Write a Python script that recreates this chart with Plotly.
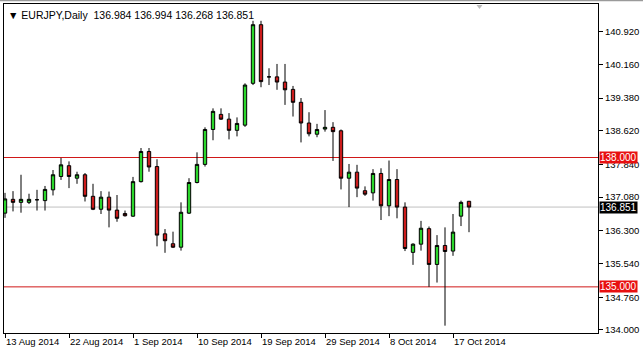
import plotly.graph_objects as go

dates = ["2014-08-13","2014-08-14","2014-08-15","2014-08-17","2014-08-18","2014-08-19","2014-08-20","2014-08-21","2014-08-22",
         "2014-08-24","2014-08-25","2014-08-26","2014-08-27","2014-08-28","2014-08-29","2014-08-31",
         "2014-09-01","2014-09-02","2014-09-03","2014-09-04","2014-09-05","2014-09-07","2014-09-08","2014-09-09","2014-09-10",
         "2014-09-11","2014-09-12","2014-09-14","2014-09-15","2014-09-16","2014-09-17","2014-09-18","2014-09-19",
         "2014-09-21","2014-09-22","2014-09-23","2014-09-24","2014-09-25","2014-09-26","2014-09-28","2014-09-29","2014-09-30",
         "2014-10-01","2014-10-02","2014-10-03","2014-10-05","2014-10-06","2014-10-07","2014-10-08","2014-10-09","2014-10-10",
         "2014-10-12","2014-10-13","2014-10-14","2014-10-15","2014-10-16","2014-10-17","2014-10-19","2014-10-20"]

opens = [136.71,137.03,136.96,136.96,137.02,137.00,137.25,137.56,137.81,
         137.52,137.60,137.10,136.80,137.08,136.78,136.70,
         136.64,137.44,138.14,137.79,136.23,136.00,135.92,136.71,137.42,
         137.84,138.65,139.00,138.89,138.63,138.75,139.72,141.08,
         139.87,139.87,139.75,139.58,139.28,138.80,138.54,138.66,138.70,
         138.62,137.52,137.66,137.23,137.18,137.63,136.88,137.49,136.85,
         135.80,135.99,136.35,135.52,135.96,135.83,136.64,136.984]
highs = [137.18,137.22,137.60,137.16,137.25,137.34,137.71,137.99,137.91,
         137.67,137.64,137.39,137.22,137.21,137.13,136.77,
         137.55,138.22,138.22,137.96,136.34,136.28,136.96,137.52,138.12,
         138.70,139.14,139.14,139.03,138.93,139.72,141.17,141.17,
         140.07,140.17,140.17,139.66,139.38,139.05,138.78,139.10,138.82,
         138.65,137.85,137.83,137.33,137.73,137.75,137.93,137.73,136.96,
         136.01,136.53,136.40,136.20,136.38,136.69,137.00,136.994]
lows = [136.60,136.75,136.72,136.92,136.77,136.77,137.12,137.48,137.29,
        137.39,136.98,136.78,136.69,136.38,136.51,136.63,
        136.62,137.42,137.67,135.94,135.79,135.90,135.84,136.69,137.40,
        137.79,138.40,138.87,138.42,138.49,138.71,139.68,139.63,
        139.68,139.57,139.22,138.95,138.35,138.49,138.47,138.60,137.92,
        137.26,136.85,137.08,137.11,137.00,136.55,136.64,136.59,135.83,
        135.51,135.84,135.00,135.10,134.10,135.72,136.41,136.268]
closes = [137.04,136.96,137.03,137.03,137.02,137.26,137.60,137.83,137.56,
          137.60,137.10,136.80,137.08,136.78,136.59,136.65,
          137.44,138.14,137.78,136.20,136.07,135.92,136.73,137.42,137.84,
          138.65,139.07,138.89,138.63,138.79,139.68,141.08,139.76,
          139.87,139.75,139.57,139.28,138.80,138.55,138.65,138.70,138.60,
          137.52,137.66,137.29,137.15,137.63,136.88,137.49,136.85,135.89,
          135.99,136.36,135.52,135.96,135.82,136.27,136.96,136.851]

x_tick_dates = ["2014-08-13","2014-08-22","2014-09-01","2014-09-10","2014-09-19","2014-09-29","2014-10-08","2014-10-17"]
x_tick_text = ["13 Aug 2014","22 Aug 2014","1 Sep 2014","10 Sep 2014","19 Sep 2014","29 Sep 2014","8 Oct 2014","17 Oct 2014"]

y_tick_vals = [134.000,134.760,135.540,136.300,137.080,137.840,138.620,139.380,140.160,140.920]
y_tick_text = ["134.000","134.760","135.540","136.300","137.080","137.840","138.620","139.380","140.160","140.920"]

levels = [138.000, 135.000]
level_text = ["138.000", "135.000"]

symbol = "EURJPY,Daily"

FONT = "Liberation Sans"

fig = go.Figure()
fig.add_trace(go.Candlestick(
    x=dates, open=opens, high=highs, low=lows, close=closes,
    increasing=dict(fillcolor="#2bd62b", line=dict(color="black", width=1)),
    decreasing=dict(fillcolor="#cc1c1c", line=dict(color="black", width=1)),
    whiskerwidth=0, showlegend=False, hoverinfo="skip"))

shapes = []
for lv in levels:
    shapes.append(dict(type="line", xref="paper", x0=0, x1=1, yref="y", y0=lv, y1=lv,
                       line=dict(color="#d01818", width=1), layer="below"))
last = closes[-1]
shapes.append(dict(type="line", xref="paper", x0=0, x1=1, yref="y", y0=last, y1=last,
                   line=dict(color="#c0c0c0", width=1), layer="below"))
# top window border
shapes.append(dict(type="line", xref="paper", x0=-0.01, x1=1.1, yref="paper", y0=1.0112, y1=1.0112,
                   line=dict(color="#9a9a9a", width=2)))
# shift marker
shapes.append(dict(type="path", xref="paper", yref="paper",
                   path="M 0.7955 0.997 L 0.8055 0.997 L 0.8005 0.985 Z",
                   fillcolor="#bbbbbb", line=dict(width=0)))

annotations = []
annotations.append(dict(xref="paper", yref="paper", x=0, y=1, xanchor="left", yanchor="top",
                        xshift=2, yshift=-3, showarrow=False,
                        text="▼ " + symbol + "  " + " ".join(f"{v:.3f}" for v in [opens[-1], highs[-1], lows[-1], closes[-1]]),
                        font=dict(family=FONT, size=10.5, color="black")))
for lv, tx in zip(levels, level_text):
    annotations.append(dict(xref="paper", yref="y", x=1, y=lv, xanchor="left", yanchor="middle",
                            xshift=1, showarrow=False, text=tx, bgcolor="#e81010",
                            borderpad=0, font=dict(family=FONT, size=10, color="white")))
annotations.append(dict(xref="paper", yref="y", x=1, y=last, xanchor="left", yanchor="middle",
                        xshift=1, showarrow=False, text=f"{last:.3f}", bgcolor="black",
                        borderpad=0, font=dict(family=FONT, size=10, color="white")))

fig.update_layout(
    width=643, height=353,
    margin=dict(l=4, r=45, t=4, b=20, autoexpand=False),
    paper_bgcolor="white", plot_bgcolor="white",
    boxgap=0.4,
    shapes=shapes, annotations=annotations,
    xaxis=dict(type="category", range=[-0.125, 74.125], rangeslider=dict(visible=False),
               tickmode="array", tickvals=x_tick_dates, ticktext=x_tick_text,
               tickangle=0, automargin=False,
               ticks="outside", ticklen=4, tickcolor="black", ticklabelposition="outside right",
               showline=True, linecolor="black", linewidth=1, mirror=True, showgrid=False, zeroline=False,
               tickfont=dict(family=FONT, size=9.5, color="black")),
    yaxis=dict(side="right", range=[133.93, 141.56], tickmode="array", automargin=False,
               tickvals=y_tick_vals, ticktext=y_tick_text,
               ticks="outside", ticklen=4, tickcolor="black",
               showline=True, linecolor="black", linewidth=1, mirror=True, showgrid=False, zeroline=False,
               tickfont=dict(family=FONT, size=9.5, color="black")),
)

fig.write_html("out.html")
